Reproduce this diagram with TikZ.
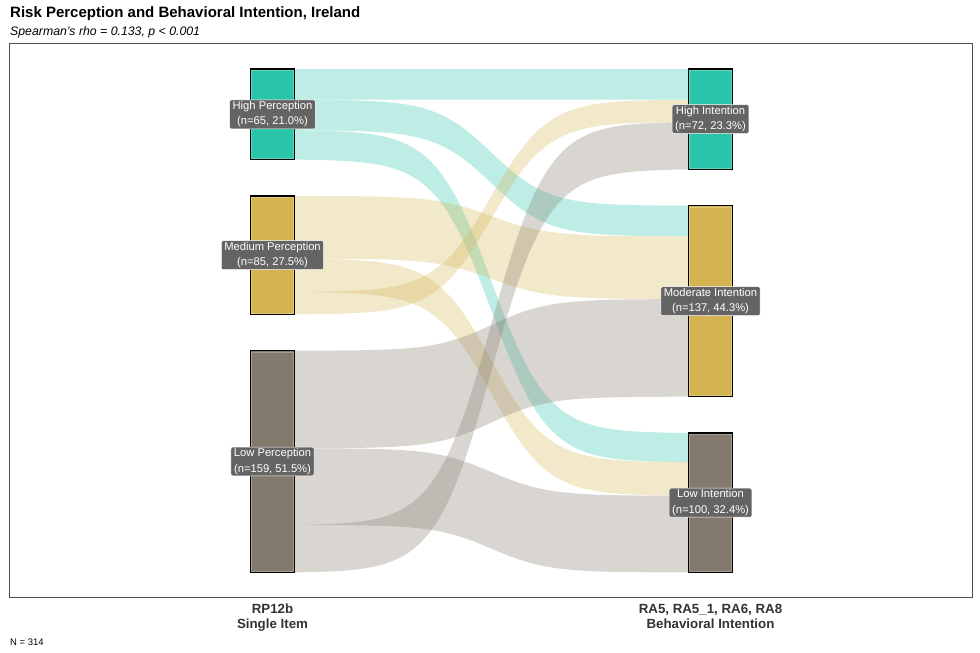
\documentclass[tikz,border=0pt]{standalone}
\usepackage{fontspec}
\setmainfont{Liberation Sans}
\definecolor{tealc}{HTML}{29C4A9}
\definecolor{goldc}{HTML}{D4B450}
\definecolor{grayc}{HTML}{837A6D}
\definecolor{labgray}{HTML}{646464}
\definecolor{axisgray}{HTML}{333333}
\definecolor{framegray}{HTML}{4D4D4D}
% flow band: left top, left bottom, right top, right bottom, colour
\newcommand{\alflow}[5]{%
  \fill[#5, fill opacity=0.3]
    plot[domain=0:1, samples=70, variable=\t]
      ({294.5+394*\t},{#1+(#3-#1)*((1/(1+exp(-14*(\t-0.5))))-0.000911)/0.998178})
    -- plot[domain=1:0, samples=70, variable=\t]
      ({294.5+394*\t},{#2+(#4-#2)*((1/(1+exp(-14*(\t-0.5))))-0.000911)/0.998178})
    -- cycle;}
\begin{document}
\begin{tikzpicture}[x=1pt,y=-1pt,
  stratum/.style={inner sep=0pt, outer sep=0pt, minimum width=44pt},
  lab/.style={fill=labgray, draw=white, line width=0.5pt, rounded corners=1.5pt,
    text=white, font=\fontsize{11.2}{15.5}\selectfont, align=center,
    inner xsep=3pt, inner ysep=1.5pt},
  axislab/.style={font=\fontsize{13.3}{14.3}\selectfont\bfseries, text=axisgray, anchor=base, inner sep=0pt}]
\useasboundingbox (0,0) rectangle (980,653);
\fill[white] (0,0) rectangle (980,653);

% title and subtitle
\node[anchor=base west, inner sep=0pt, font=\fontsize{15}{18}\selectfont\bfseries] (title) at (10,17) {Risk Perception and Behavioral Intention, Ireland};
\node[anchor=base west, inner sep=0pt, font=\fontsize{12.3}{15}\selectfont\itshape] (subtitle) at (10,35.2) {Spearman's rho = 0.133, p < 0.001};

% panel frame
\draw[framegray, line width=1pt] (9.5,43.5) rectangle (972.5,597.5);

% flows
\alflow{69}{99.67}{69}{99.67}{tealc}          % High -> High
\alflow{99.67}{130.34}{205.7}{236.37}{tealc}  % High -> Moderate
\alflow{130.34}{159.61}{433}{462.27}{tealc}   % High -> Low
\alflow{195.9}{258.63}{236.37}{299.1}{goldc}  % Medium -> Moderate
\alflow{258.63}{292.09}{462.27}{495.73}{goldc}% Medium -> Low
\alflow{292.09}{314.39}{99.67}{121.97}{goldc} % Medium -> High
\alflow{350.7}{448.28}{299.1}{396.68}{grayc}  % Low -> Moderate
\alflow{448.28}{524.95}{495.73}{572.4}{grayc} % Low -> Low
\alflow{524.95}{572.35}{121.97}{169.37}{grayc}% Low -> High

% strata (left)
\node[stratum, minimum height=90.6pt] (lhigh) at (272.5,114.3) {};
\node[stratum, minimum height=118.5pt] (lmed) at (272.5,255.15) {};
\node[stratum, minimum height=221.6pt] (llow) at (272.5,461.5) {};
% strata (right)
\node[stratum, minimum height=100.4pt] (rhigh) at (710.5,119.2) {};
\node[stratum, minimum height=191pt] (rmod) at (710.5,301.2) {};
\node[stratum, minimum height=139.4pt] (rlow) at (710.5,502.7) {};
\foreach \n/\c in {lhigh/tealc, lmed/goldc, llow/grayc, rhigh/tealc, rmod/goldc, rlow/grayc}{
  \fill[\c] (\n.north west) rectangle (\n.south east);
  \draw[\c!75!white, line width=0.5pt]
    ([xshift=1.1pt,yshift=-1.1pt]\n.north west) rectangle ([xshift=-1.1pt,yshift=1.1pt]\n.south east);
  \draw[black, line width=1.2pt] (\n.north west) rectangle (\n.south east);
}

% labels
\node[lab] (lhighlab) at (lhigh) {High Perception\\(n=65, 21.0\%)};
\node[lab] (lmedlab) at (lmed) {Medium Perception\\(n=85, 27.5\%)};
\node[lab] (llowlab) at (llow) {Low Perception\\(n=159, 51.5\%)};
\node[lab] (rhighlab) at (rhigh) {High Intention\\(n=72, 23.3\%)};
\node[lab] (rmodlab) at (rmod) {Moderate Intention\\(n=137, 44.3\%)};
\node[lab] (rlowlab) at (rlow) {Low Intention\\(n=100, 32.4\%)};

% axis labels
\node[axislab] (ax1a) at (272.5,613.8) {RP12b};
\node[axislab] (ax1b) at (272.5,628) {Single Item};
\node[axislab] (ax2a) at (710.5,613.8) {RA5, RA5\_1, RA6, RA8};
\node[axislab] (ax2b) at (710.5,628) {Behavioral Intention};

% caption
\node[anchor=base west, inner sep=0pt, font=\fontsize{9.5}{11}\selectfont] (ncap) at (10,645.3) {N = 314};
\end{tikzpicture}
\end{document}
